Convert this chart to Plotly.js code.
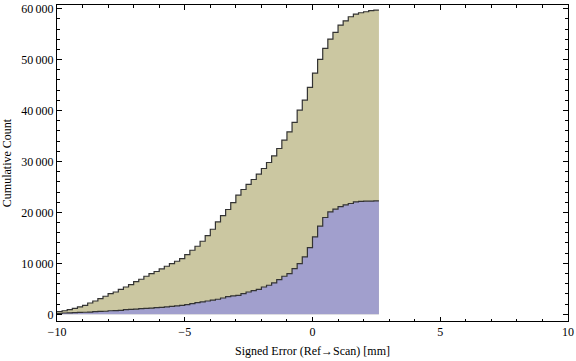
<!DOCTYPE html>
<html><head><meta charset="utf-8">
<script src="https://cdn.plot.ly/plotly-3.0.1.min.js"></script>
<style>html,body{margin:0;padding:0;background:#fff}#chart{width:576px;height:361px}</style>
</head><body><div id="chart"></div>
<script>
// Bin edges of the cumulative histogram (mm)
const binEdges = [-10.0,-9.8,-9.6,-9.4,-9.2,-9.0,-8.8,-8.6,-8.4,-8.2,
  -8.0,-7.8,-7.6,-7.4,-7.2,-7.0,-6.8,-6.6,-6.4,-6.2,
  -6.0,-5.8,-5.6,-5.4,-5.2,-5.0,-4.8,-4.6,-4.4,-4.2,
  -4.0,-3.8,-3.6,-3.4,-3.2,-3.0,-2.8,-2.6,-2.4,-2.2,
  -2.0,-1.8,-1.6,-1.4,-1.2,-1.0,-0.8,-0.6,-0.4,-0.2,
  0.0,0.2,0.4,0.6,0.8,1.0,1.2,1.4,1.6,1.8,
  2.0,2.2,2.4,2.6];

// Cumulative counts per bin
const blueCum = [200,250,280,320,360,400,440,520,560,600,
  700,740,780,900,950,1000,1100,1150,1200,1300,
  1350,1440,1550,1650,1770,1900,2100,2300,2450,2610,
  2780,2950,3200,3480,3600,3730,4060,4380,4650,4910,
  5360,5700,6150,6820,7470,8000,8980,9960,11260,13100,
  15190,17290,19000,20100,20630,21150,21470,21750,22060,22150,
  22200,22230,22250];

const totalCum = [550,700,920,1180,1440,1770,2220,2610,3080,3540,
  4060,4380,4910,5360,5830,6420,6880,7470,8000,8400,
  8900,9430,9960,10410,10940,11730,12570,13360,14340,15460,
  16700,18130,19390,20570,21940,23380,24500,25500,26460,27500,
  28620,29800,31100,32550,34180,35820,37660,40080,42040,44540,
  47350,50040,52200,54030,55340,56780,57620,58410,58940,59200,
  59390,59600,59700];

const xTickVals = [-10,-5,0,5,10];
const xTickText = ['\u221210','\u22125','0','5','10'];
const yTickVals = [0,10000,20000,30000,40000,50000,60000];
const yTickText = ['0','10\u2009000','20\u2009000','30\u2009000','40\u2009000','50\u2009000','60\u2009000'];

const beige = 'rgb(203,199,161)';
const blue = 'rgb(161,159,205)';
const edge = '#333333';

function stepY(v){ return v.concat([v[v.length-1]]); }

const traces = [
  {x: binEdges, y: stepY(totalCum), type:'scatter', mode:'lines',
   line:{shape:'hv', color:edge, width:1.2}, fill:'tozeroy', fillcolor:beige, hoverinfo:'skip'},
  {x: binEdges, y: stepY(blueCum), type:'scatter', mode:'lines',
   line:{shape:'hv', color:edge, width:1.2}, fill:'tozeroy', fillcolor:blue, hoverinfo:'skip'}
];

const axisCommon = {
  showline:true, linecolor:'#000', linewidth:1, mirror:'allticks',
  ticks:'inside', tickcolor:'#000', tickwidth:1,
  showgrid:false, zeroline:false, tickmode:'array'
};

const layout = {
  width:576, height:361,
  margin:{l:57, r:8, t:5, b:40, pad:0},
  paper_bgcolor:'#fff', plot_bgcolor:'#fff',
  showlegend:false,
  font:{family:'"Liberation Serif", "Times New Roman", serif', size:12, color:'#000'},
  xaxis: Object.assign({}, axisCommon, {
    range:[-10,10], tickvals:xTickVals, ticktext:xTickText, ticklen:4.5,
    minor:{tickmode:'linear', tick0:-10, dtick:1, ticks:'inside', ticklen:2.5, tickcolor:'#000', tickwidth:1, showgrid:false},
    title:{text:'Signed Error (Ref\u2192Scan) [mm]', font:{size:12}, standoff:8}
  }),
  yaxis: Object.assign({}, axisCommon, {
    range:[-1316,60720], tickvals:yTickVals, ticktext:yTickText, ticklen:5,
    minor:{tickmode:'linear', tick0:0, dtick:2000, ticks:'inside', ticklen:2.7, tickcolor:'#000', tickwidth:1, showgrid:false},
    title:{text:'Cumulative Count', font:{size:12}, standoff:6}
  })
};

Plotly.newPlot('chart', traces, layout, {staticPlot:true, displayModeBar:false});
</script>
</body></html>
